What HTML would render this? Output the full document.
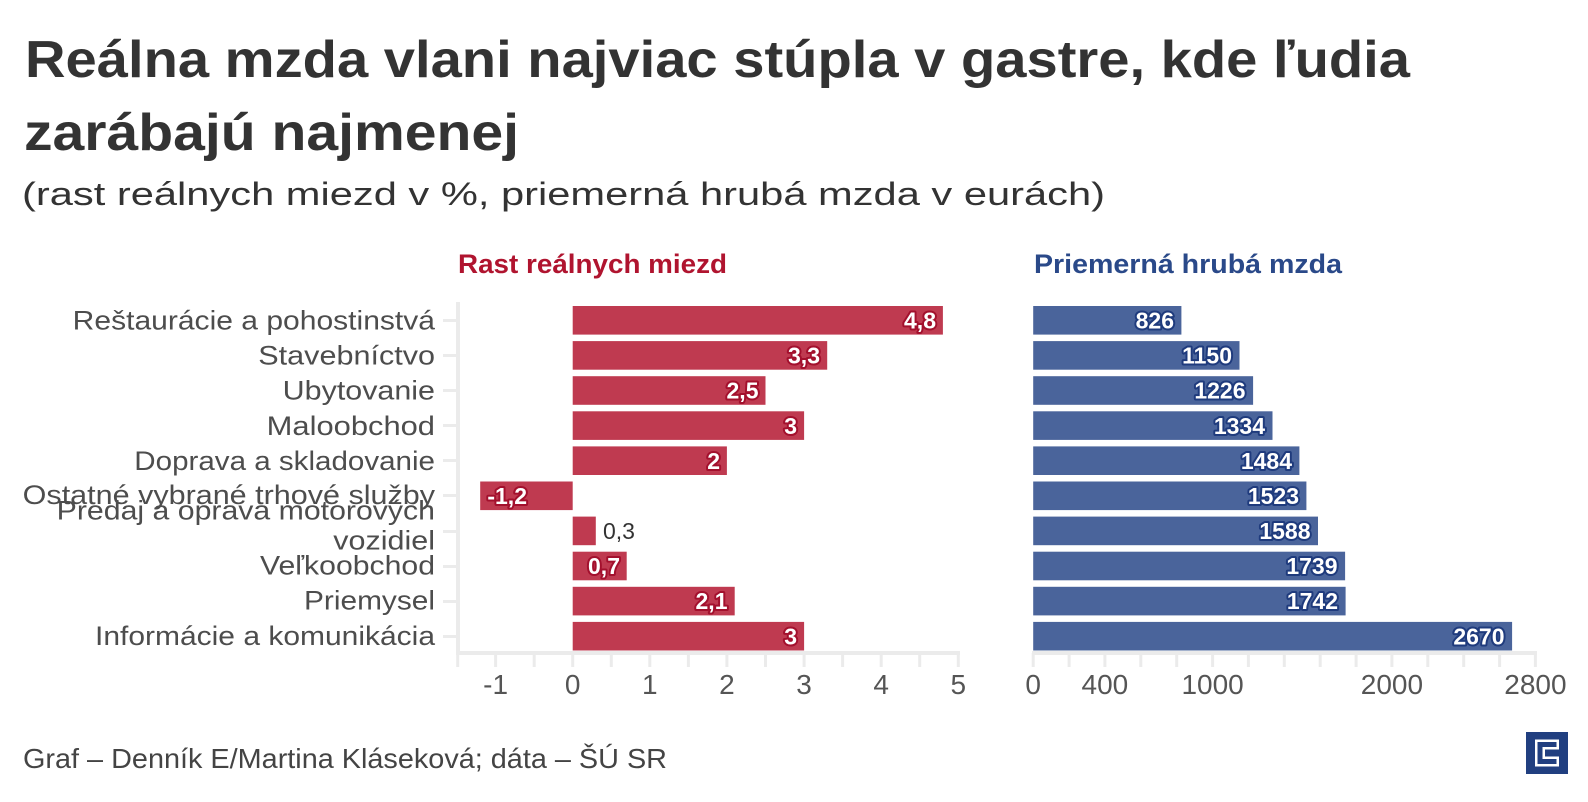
<!DOCTYPE html>
<html>
<head>
<meta charset="utf-8">
<style>
  html,body{margin:0;padding:0;background:#fff;}
  svg{display:block;}
  text{font-family:"Liberation Sans", sans-serif;}
</style>
</head>
<body>
<svg width="1588" height="802" viewBox="0 0 1588 802" xmlns="http://www.w3.org/2000/svg">
  <rect width="1588" height="802" fill="#fff"/>

  <!-- Title -->
  <text x="25" y="77" font-size="52" font-weight="bold" fill="#333" textLength="1385" lengthAdjust="spacingAndGlyphs">Reálna mzda vlani najviac stúpla v gastre, kde ľudia</text>
  <text x="24" y="150" font-size="52" font-weight="bold" fill="#333" textLength="495" lengthAdjust="spacingAndGlyphs">zarábajú najmenej</text>
  <text x="22" y="205" font-size="32" fill="#333" textLength="1083" lengthAdjust="spacingAndGlyphs">(rast reálnych miezd v %, priemerná hrubá mzda v eurách)</text>

  <!-- Panel headings -->
  <text x="458" y="273" font-size="27" font-weight="bold" fill="#b0142f" textLength="269" lengthAdjust="spacingAndGlyphs">Rast reálnych miezd</text>
  <text x="1034" y="273" font-size="27" font-weight="bold" fill="#2a4989" textLength="308" lengthAdjust="spacingAndGlyphs">Priemerná hrubá mzda</text>

  <!-- Left axis structure -->
  <g fill="#ebebeb">
    <rect x="456" y="302" width="4" height="353"/>
    <rect x="456" y="651" width="504" height="4"/>
    <rect x="443" y="319" width="14" height="3"/>
    <rect x="443" y="354" width="14" height="3"/>
    <rect x="443" y="389" width="14" height="3"/>
    <rect x="443" y="424" width="14" height="3"/>
    <rect x="443" y="459" width="14" height="3"/>
    <rect x="443" y="494" width="14" height="3"/>
    <rect x="443" y="530" width="14" height="3"/>
    <rect x="443" y="565" width="14" height="3"/>
    <rect x="443" y="600" width="14" height="3"/>
    <rect x="443" y="635" width="14" height="3"/>
    <rect x="456.2" y="653" width="3" height="14"/>
    <rect x="494.1" y="653" width="3" height="14"/>
    <rect x="532.7" y="653" width="3" height="14"/>
    <rect x="571.2" y="653" width="3" height="14"/>
    <rect x="609.8" y="653" width="3" height="14"/>
    <rect x="648.3" y="653" width="3" height="14"/>
    <rect x="686.9" y="653" width="3" height="14"/>
    <rect x="725.4" y="653" width="3" height="14"/>
    <rect x="764.0" y="653" width="3" height="14"/>
    <rect x="802.6" y="653" width="3" height="14"/>
    <rect x="841.1" y="653" width="3" height="14"/>
    <rect x="879.7" y="653" width="3" height="14"/>
    <rect x="918.2" y="653" width="3" height="14"/>
    <rect x="956.8" y="653" width="3" height="14"/>
  </g>

  <!-- Right axis structure -->
  <g fill="#ebebeb">
    <rect x="1032" y="651" width="505" height="4"/>
    <rect x="1031.7" y="653" width="3" height="14"/>
    <rect x="1067.6" y="653" width="3" height="14"/>
    <rect x="1103.4" y="653" width="3" height="14"/>
    <rect x="1139.3" y="653" width="3" height="14"/>
    <rect x="1175.2" y="653" width="3" height="14"/>
    <rect x="1211.1" y="653" width="3" height="14"/>
    <rect x="1246.9" y="653" width="3" height="14"/>
    <rect x="1282.8" y="653" width="3" height="14"/>
    <rect x="1318.7" y="653" width="3" height="14"/>
    <rect x="1354.6" y="653" width="3" height="14"/>
    <rect x="1390.4" y="653" width="3" height="14"/>
    <rect x="1426.3" y="653" width="3" height="14"/>
    <rect x="1462.2" y="653" width="3" height="14"/>
    <rect x="1498.1" y="653" width="3" height="14"/>
    <rect x="1533.9" y="653" width="3" height="14"/>
  </g>

  <!-- Category labels -->
  <g font-size="27" fill="#4d4d4d">
    <text x="72.7" y="329.5" textLength="362.3" lengthAdjust="spacingAndGlyphs">Reštaurácie a pohostinstvá</text>
    <text x="258.3" y="364.6" textLength="176.7" lengthAdjust="spacingAndGlyphs">Stavebníctvo</text>
    <text x="282.7" y="399.7" textLength="152.3" lengthAdjust="spacingAndGlyphs">Ubytovanie</text>
    <text x="266.7" y="434.8" textLength="168.3" lengthAdjust="spacingAndGlyphs">Maloobchod</text>
    <text x="134.3" y="469.9" textLength="300.7" lengthAdjust="spacingAndGlyphs">Doprava a skladovanie</text>
    <text x="22.7" y="504" textLength="412.3" lengthAdjust="spacingAndGlyphs">Ostatné vybrané trhové služby</text>
    <text x="56.7" y="519.5" textLength="378.3" lengthAdjust="spacingAndGlyphs">Predaj a oprava motorových</text>
    <text x="333.3" y="549.5" textLength="101.7" lengthAdjust="spacingAndGlyphs">vozidiel</text>
    <text x="260" y="574.5" textLength="175" lengthAdjust="spacingAndGlyphs">Veľkoobchod</text>
    <text x="304" y="609.5" textLength="131" lengthAdjust="spacingAndGlyphs">Priemysel</text>
    <text x="95" y="645" textLength="340" lengthAdjust="spacingAndGlyphs">Informácie a komunikácia</text>
  </g>

  <!-- Left bars -->
  <g fill="#bf3a50">
    <rect x="572.7" y="306" width="370.2" height="28.6"/>
    <rect x="572.7" y="341.1" width="254.5" height="28.6"/>
    <rect x="572.7" y="376.2" width="192.8" height="28.6"/>
    <rect x="572.7" y="411.3" width="231.4" height="28.6"/>
    <rect x="572.7" y="446.4" width="154.2" height="28.6"/>
    <rect x="480.2" y="481.5" width="92.5" height="28.6"/>
    <rect x="572.7" y="516.6" width="23.1" height="28.6"/>
    <rect x="572.7" y="551.7" width="54" height="28.6"/>
    <rect x="572.7" y="586.8" width="162" height="28.6"/>
    <rect x="572.7" y="621.9" width="231.4" height="28.6"/>
  </g>

  <!-- Left value labels -->
  <g font-size="23" font-weight="bold" fill="#fff" stroke="#a3102d" stroke-width="4" stroke-linejoin="round" paint-order="stroke" text-anchor="end">
    <text x="936" y="328.5">4,8</text>
    <text x="820" y="363.5">3,3</text>
    <text x="758.5" y="398.5">2,5</text>
    <text x="797" y="434">3</text>
    <text x="720" y="469">2</text>
    <text x="527" y="504">-1,2</text>
    <text x="620" y="574">0,7</text>
    <text x="727.5" y="609">2,1</text>
    <text x="797" y="644.5">3</text>
  </g>
  <text x="603" y="539" font-size="23" fill="#333">0,3</text>

  <!-- Right bars -->
  <g fill="#4a649b">
    <rect x="1033.2" y="306" width="148.2" height="28.6"/>
    <rect x="1033.2" y="341.1" width="206.3" height="28.6"/>
    <rect x="1033.2" y="376.2" width="219.9" height="28.6"/>
    <rect x="1033.2" y="411.3" width="239.3" height="28.6"/>
    <rect x="1033.2" y="446.4" width="266.2" height="28.6"/>
    <rect x="1033.2" y="481.5" width="273.2" height="28.6"/>
    <rect x="1033.2" y="516.6" width="284.8" height="28.6"/>
    <rect x="1033.2" y="551.7" width="311.9" height="28.6"/>
    <rect x="1033.2" y="586.8" width="312.4" height="28.6"/>
    <rect x="1033.2" y="621.9" width="478.9" height="28.6"/>
  </g>

  <!-- Right value labels -->
  <g font-size="23" font-weight="bold" fill="#fff" stroke="#1f3b7d" stroke-width="4" stroke-linejoin="round" paint-order="stroke" text-anchor="end">
    <text x="1174" y="328.5">826</text>
    <text x="1232" y="363.5">1150</text>
    <text x="1245.5" y="398.5">1226</text>
    <text x="1265" y="434">1334</text>
    <text x="1292" y="469">1484</text>
    <text x="1299" y="504">1523</text>
    <text x="1310.5" y="539">1588</text>
    <text x="1337.5" y="574">1739</text>
    <text x="1338" y="609">1742</text>
    <text x="1504.5" y="644.5">2670</text>
  </g>

  <!-- Tick labels -->
  <g font-size="28" fill="#555" text-anchor="middle">
    <text x="495.6" y="694">-1</text>
    <text x="572.7" y="694">0</text>
    <text x="649.8" y="694">1</text>
    <text x="726.9" y="694">2</text>
    <text x="804.1" y="694">3</text>
    <text x="881.2" y="694">4</text>
    <text x="958.3" y="694">5</text>
    <text x="1033.2" y="694">0</text>
    <text x="1104.9" y="694">400</text>
    <text x="1212.6" y="694">1000</text>
    <text x="1391.9" y="694">2000</text>
    <text x="1535.4" y="694">2800</text>
  </g>

  <!-- Footer -->
  <text x="23" y="768" font-size="28" fill="#444" textLength="644" lengthAdjust="spacingAndGlyphs">Graf – Denník E/Martina Kláseková; dáta – ŠÚ SR</text>

  <!-- Logo -->
  <g transform="translate(1526,732)">
    <rect width="42" height="42" fill="#213f80"/>
    <g fill="#fff">
      <rect x="9" y="7.5" width="24" height="2.5"/>
      <rect x="9" y="7.5" width="2.5" height="27"/>
      <rect x="9" y="32" width="24" height="2.5"/>
      <rect x="30.5" y="7.5" width="2.5" height="8.5"/>
      <rect x="16.5" y="15" width="16.5" height="2.5"/>
      <rect x="16.5" y="15" width="2.5" height="12"/>
      <rect x="16.5" y="24.5" width="16.5" height="2.5"/>
      <rect x="30.5" y="24.5" width="2.5" height="10"/>
    </g>
  </g>
</svg>
</body>
</html>
